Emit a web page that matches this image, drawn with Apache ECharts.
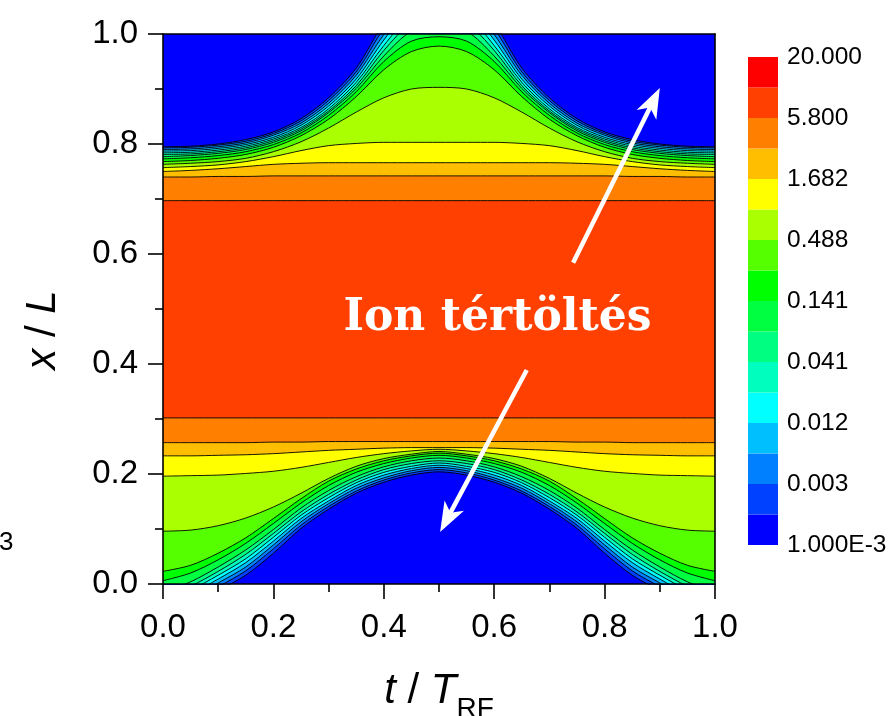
<!DOCTYPE html>
<html>
<head>
<meta charset="utf-8">
<script src="https://cdn.jsdelivr.net/npm/echarts@6/dist/echarts.min.js"></script>
<style>
html, body { margin: 0; padding: 0; background: #fff; }
#chart { width: 892px; height: 716px; }
</style>
</head>
<body>
<div id="chart"></div>
<script>
// Sample times t / T_RF at which every contour line is tabulated
const tValues = [0, 0.05, 0.1, 0.15, 0.2, 0.25, 0.3, 0.35, 0.4, 0.45, 0.5,
                 0.55, 0.6, 0.65, 0.7, 0.75, 0.8, 0.85, 0.9, 0.95, 1];

// Colour scale: 16 bands from below level 1 (blue) up to the top level (red)
const bandColors = ['#0000FF', '#0040FF', '#0080FF', '#00BFFF', '#00FFFF', '#00FFBF',
                    '#00FF80', '#00FF40', '#00FF00', '#55FF00', '#AAFF00', '#FFFF00',
                    '#FFBF00', '#FF8000', '#FF4000', '#FF0000'];
// Labels on every second band boundary of the colour bar (bottom to top)
const levelLabels = ['1.000E-3', '0.003', '0.012', '0.041', '0.141', '0.488', '1.682', '5.800', '20.000'];
const xTickLabels = ['0.0', '0.2', '0.4', '0.6', '0.8', '1.0'];
const yTickLabels = ['0.0', '0.2', '0.4', '0.6', '0.8', '1.0'];

// Contour lines near the lower electrode, x / L of level k at each sample time
const lower1  = [-0.060,-0.040,-0.012,0.016,0.056,0.101,0.136,0.165,0.185,0.198,0.204,0.198,0.185,0.165,0.136,0.101,0.056,0.016,-0.012,-0.040,-0.060];
const lower2  = [-0.052,-0.032,-0.005,0.024,0.064,0.107,0.141,0.169,0.189,0.202,0.208,0.202,0.189,0.169,0.141,0.107,0.064,0.024,-0.005,-0.032,-0.052];
const lower3  = [-0.045,-0.025,0.002,0.031,0.071,0.113,0.146,0.174,0.193,0.206,0.212,0.206,0.193,0.174,0.146,0.113,0.071,0.031,0.002,-0.025,-0.045];
const lower4  = [-0.038,-0.018,0.009,0.039,0.078,0.119,0.151,0.179,0.198,0.210,0.216,0.210,0.198,0.179,0.151,0.119,0.078,0.039,0.009,-0.018,-0.038];
const lower5  = [-0.031,-0.011,0.016,0.046,0.085,0.125,0.157,0.184,0.203,0.214,0.220,0.214,0.203,0.184,0.157,0.125,0.085,0.046,0.016,-0.011,-0.031];
const lower6  = [-0.023,-0.004,0.023,0.054,0.092,0.131,0.163,0.189,0.208,0.219,0.224,0.219,0.208,0.189,0.163,0.131,0.092,0.054,0.023,-0.004,-0.023];
const lower7  = [-0.014,0.004,0.031,0.062,0.099,0.138,0.170,0.195,0.213,0.224,0.229,0.224,0.213,0.195,0.170,0.138,0.099,0.062,0.031,0.004,-0.014];
const lower8  = [0.006,0.020,0.044,0.074,0.110,0.147,0.179,0.203,0.219,0.229,0.234,0.229,0.219,0.203,0.179,0.147,0.110,0.074,0.044,0.020,0.006];
const lower9  = [0.023,0.034,0.056,0.084,0.119,0.155,0.187,0.209,0.224,0.233,0.238,0.233,0.224,0.209,0.187,0.155,0.119,0.084,0.056,0.034,0.023];
const lower10 = [0.096,0.098,0.106,0.120,0.140,0.165,0.192,0.214,0.228,0.236,0.241,0.236,0.228,0.214,0.192,0.165,0.140,0.120,0.106,0.098,0.096];
const lower11 = [0.196,0.197,0.198,0.201,0.205,0.212,0.221,0.230,0.237,0.242,0.245,0.242,0.237,0.230,0.221,0.212,0.205,0.201,0.198,0.197,0.196];
const lower12 = [0.233,0.233,0.234,0.235,0.237,0.240,0.243,0.245,0.247,0.248,0.248,0.248,0.247,0.245,0.243,0.240,0.237,0.235,0.234,0.233,0.233];
const lower13 = [0.257,0.257,0.257,0.257,0.258,0.258,0.259,0.259,0.259,0.259,0.259,0.259,0.259,0.259,0.259,0.258,0.258,0.257,0.257,0.257,0.257];
const lower14 = [0.302,0.302,0.302,0.302,0.302,0.302,0.302,0.302,0.302,0.302,0.302,0.302,0.302,0.302,0.302,0.302,0.302,0.302,0.302,0.302,0.302];

// Contour lines near the upper electrode
const upper1  = [0.795,0.796,0.800,0.808,0.822,0.846,0.884,0.938,1.020,1.080,1.100,1.080,1.020,0.938,0.884,0.846,0.822,0.808,0.800,0.796,0.795];
const upper2  = [0.793,0.794,0.798,0.805,0.819,0.842,0.879,0.931,1.010,1.070,1.090,1.070,1.010,0.931,0.879,0.842,0.819,0.805,0.798,0.794,0.793];
const upper3  = [0.790,0.791,0.795,0.802,0.816,0.838,0.874,0.925,0.999,1.060,1.080,1.060,0.999,0.925,0.874,0.838,0.816,0.802,0.795,0.791,0.790];
const upper4  = [0.787,0.788,0.792,0.799,0.812,0.834,0.869,0.918,0.989,1.050,1.070,1.050,0.989,0.918,0.869,0.834,0.812,0.799,0.792,0.788,0.787];
const upper5  = [0.784,0.785,0.789,0.796,0.809,0.830,0.864,0.912,0.979,1.035,1.055,1.035,0.979,0.912,0.864,0.830,0.809,0.796,0.789,0.785,0.784];
const upper6  = [0.781,0.782,0.786,0.793,0.806,0.827,0.860,0.906,0.970,1.020,1.035,1.020,0.970,0.906,0.860,0.827,0.806,0.793,0.786,0.782,0.781];
const upper7  = [0.777,0.779,0.783,0.790,0.803,0.824,0.857,0.901,0.960,1.005,1.015,1.005,0.960,0.901,0.857,0.824,0.803,0.790,0.783,0.779,0.777];
const upper8  = [0.773,0.775,0.779,0.786,0.799,0.820,0.852,0.895,0.950,0.987,0.995,0.987,0.950,0.895,0.852,0.820,0.799,0.786,0.779,0.775,0.773];
const upper9  = [0.768,0.770,0.774,0.781,0.794,0.815,0.845,0.886,0.935,0.968,0.978,0.968,0.935,0.886,0.845,0.815,0.794,0.781,0.774,0.770,0.768];
const upper10 = [0.763,0.765,0.768,0.774,0.786,0.804,0.829,0.858,0.884,0.900,0.903,0.900,0.884,0.858,0.829,0.804,0.786,0.774,0.768,0.765,0.763];
const upper11 = [0.757,0.759,0.762,0.768,0.777,0.788,0.797,0.801,0.803,0.803,0.803,0.803,0.803,0.801,0.797,0.788,0.777,0.768,0.762,0.759,0.757];
const upper12 = [0.750,0.752,0.755,0.759,0.763,0.765,0.766,0.766,0.766,0.766,0.766,0.766,0.766,0.766,0.766,0.765,0.763,0.759,0.755,0.752,0.750];
const upper13 = [0.740,0.740,0.741,0.741,0.742,0.742,0.742,0.742,0.742,0.742,0.742,0.742,0.742,0.742,0.742,0.742,0.742,0.741,0.741,0.740,0.740];
const upper14 = [0.697,0.697,0.697,0.697,0.697,0.697,0.697,0.697,0.697,0.697,0.697,0.697,0.697,0.697,0.697,0.697,0.697,0.697,0.697,0.697,0.697];

const lowerLines = [lower1, lower2, lower3, lower4, lower5, lower6, lower7, lower8, lower9, lower10, lower11, lower12, lower13, lower14];
const upperLines = [upper1, upper2, upper3, upper4, upper5, upper6, upper7, upper8, upper9, upper10, upper11, upper12, upper13, upper14];

// Annotation: label and two arrows, given in (t, x) coordinates
const noteText = 'Ion tértöltés';
const notePos = [0.606, 0.482];
const arrows = [
  { from: [0.743, 0.584], to: [0.900, 0.902] },
  { from: [0.659, 0.389], to: [0.502, 0.0945] }
];

const FONT = '"Liberation Sans", Arial, Helvetica, sans-serif';

// A contour level: black line, filled on the side of lower values
function contourSeries(values, fillColor, origin) {
  return {
    type: 'line',
    xAxisIndex: 0,
    yAxisIndex: 0,
    data: tValues.map((t, i) => [t, values[i]]),
    smooth: 0.3,
    symbol: 'none',
    showSymbol: false,
    clip: true,
    silent: true,
    animation: false,
    lineStyle: { color: '#000', width: 0.9 },
    areaStyle: { color: fillColor, opacity: 1, origin: origin }
  };
}

const series = [];
// lower half: fill from x = 0 up to each level, highest level first
for (let k = lowerLines.length; k >= 1; k--) {
  series.push(contourSeries(lowerLines[k - 1], bandColors[k - 1], 'start'));
}
// upper half: fill from each level up to x = 1
for (let k = upperLines.length; k >= 1; k--) {
  series.push(contourSeries(upperLines[k - 1], bandColors[k - 1], 'end'));
}
// colour bar rectangles
series.push({
  type: 'custom',
  xAxisIndex: 2,
  yAxisIndex: 2,
  silent: true,
  animation: false,
  data: bandColors.map((c, i) => [i]),
  renderItem: function (params, api) {
    const i = api.value(0);
    const p0 = api.coord([0, i]);
    const p1 = api.coord([1, i + 1]);
    return {
      type: 'rect',
      shape: { x: p0[0], y: p1[1], width: p1[0] - p0[0], height: p0[1] - p1[1] },
      style: { fill: bandColors[i], stroke: null }
    };
  }
});

const chart = echarts.init(document.getElementById('chart'), null, { renderer: 'canvas' });

const axisBlack = { color: '#000', width: 1.6 };

chart.setOption({
  animation: false,
  backgroundColor: '#fff',
  grid: [
    { left: 163, top: 34, width: 552, height: 550, show: true, backgroundColor: bandColors[14],
      borderWidth: 0, containLabel: false, outerBoundsMode: 'none' },
    { left: 748, top: 57, width: 30, height: 488, show: false, containLabel: false, outerBoundsMode: 'none' }
  ],
  xAxis: [
    {
      type: 'value', gridIndex: 0, min: 0, max: 1, interval: 0.2, position: 'bottom', z: 10,
      axisLine: { show: true, onZero: false, lineStyle: axisBlack },
      axisTick: { show: true, inside: false, length: 15, lineStyle: axisBlack },
      minorTick: { show: true, splitNumber: 2, length: 8, lineStyle: axisBlack },
      splitLine: { show: false },
      axisLabel: { color: '#000', fontSize: 33, fontFamily: FONT, margin: 27,
                   formatter: (v, idx) => xTickLabels[idx] },
      name: '{i|t} / {i|T}{s|RF}',
      nameLocation: 'middle',
      nameGap: 75,
      nameTextStyle: {
        color: '#000', fontSize: 42, fontFamily: FONT,
        rich: {
          i: { fontStyle: 'italic', fontSize: 42, fontFamily: FONT, color: '#000' },
          s: { fontSize: 28, fontFamily: FONT, color: '#000', padding: [36, 0, 0, 0] }
        }
      }
    },
    {
      type: 'value', gridIndex: 0, min: 0, max: 1, position: 'top', z: 10,
      axisLine: { show: true, onZero: false, lineStyle: axisBlack },
      axisTick: { show: false }, axisLabel: { show: false }, splitLine: { show: false }
    },
    {
      type: 'value', gridIndex: 1, min: 0, max: 1, show: false
    }
  ],
  yAxis: [
    {
      type: 'value', gridIndex: 0, min: 0, max: 1, interval: 0.2, position: 'left', z: 10,
      axisLine: { show: true, onZero: false, lineStyle: axisBlack },
      axisTick: { show: true, inside: false, length: 15, lineStyle: axisBlack },
      minorTick: { show: true, splitNumber: 2, length: 8, lineStyle: axisBlack },
      splitLine: { show: false },
      axisLabel: { color: '#000', fontSize: 33, fontFamily: FONT, margin: 25,
                   formatter: (v, idx) => yTickLabels[idx] },
      name: '{i|x} / {i|L}',
      nameLocation: 'middle',
      nameGap: 99,
      nameTextStyle: {
        color: '#000', fontSize: 42, fontFamily: FONT, padding: [0, 42, 0, 0],
        rich: { i: { fontStyle: 'italic', fontSize: 42, fontFamily: FONT, color: '#000' } }
      }
    },
    {
      type: 'value', gridIndex: 0, min: 0, max: 1, position: 'right', z: 10,
      axisLine: { show: true, onZero: false, lineStyle: axisBlack },
      axisTick: { show: false }, axisLabel: { show: false }, splitLine: { show: false }
    },
    {
      type: 'value', gridIndex: 1, min: 0, max: 16, interval: 2, position: 'right',
      axisLine: { show: false }, axisTick: { show: false }, splitLine: { show: false },
      axisLabel: { color: '#000', fontSize: 24.5, fontFamily: FONT, margin: 9, padding: [8, 0, 0, 0],
                   formatter: (v, idx) => levelLabels[idx] }
    }
  ],
  series: series
});

// Annotation: arrows and label placed from (t, x) coordinates
function arrowGraphic(a) {
  const p0 = chart.convertToPixel({ gridIndex: 0 }, a.from);
  const p1 = chart.convertToPixel({ gridIndex: 0 }, a.to);
  const dx = p1[0] - p0[0], dy = p1[1] - p0[1];
  const len = Math.sqrt(dx * dx + dy * dy);
  const ux = dx / len, uy = dy / len;
  const nx = -uy, ny = ux;
  const headLen = 30, headHalf = 11, notch = 22;
  const base = [p1[0] - ux * headLen, p1[1] - uy * headLen];
  const back = [p1[0] - ux * notch, p1[1] - uy * notch];
  return [
    {
      type: 'line', z: 50,
      shape: { x1: p0[0], y1: p0[1], x2: back[0] + ux * 2, y2: back[1] + uy * 2 },
      style: { stroke: '#fff', lineWidth: 4.5 }
    },
    {
      type: 'polygon', z: 50,
      shape: { points: [p1, [base[0] + nx * headHalf, base[1] + ny * headHalf], back,
                        [base[0] - nx * headHalf, base[1] - ny * headHalf]] },
      style: { fill: '#fff', stroke: null }
    }
  ];
}

const notePx = chart.convertToPixel({ gridIndex: 0 }, notePos);
const graphics = [];
arrows.forEach(a => graphics.push(...arrowGraphic(a)));
graphics.push({
  type: 'text', z: 50, x: notePx[0], y: notePx[1],
  style: { text: noteText, fill: '#fff', font: 'bold 44px "DejaVu Serif", "Liberation Serif", serif',
           align: 'center', verticalAlign: 'middle' }
});
graphics.push({
  type: 'text', z: 50, x: -1, y: 543,
  style: { text: '3', fill: '#000', font: '26px ' + FONT, align: 'left', verticalAlign: 'middle' }
});
chart.setOption({ graphic: graphics });
</script>
</body>
</html>
